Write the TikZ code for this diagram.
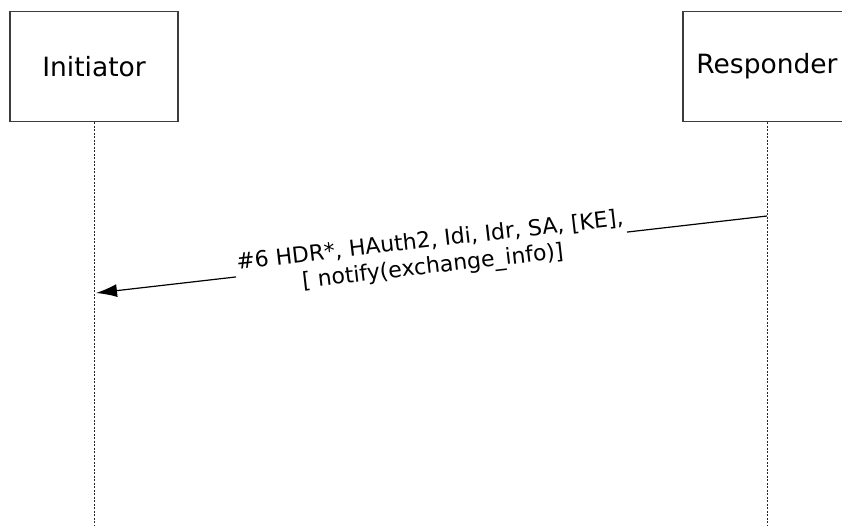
\documentclass[tikz,border=0pt]{standalone}
\usepackage{fontspec}
\setmainfont{DejaVu Sans}
\usetikzlibrary{positioning,arrows.meta,calc}
\definecolor{BoxGrey}{RGB}{60,60,60}

\begin{document}
\begin{tikzpicture}[
    x=1pt, y=-1pt,
    actor/.style={rectangle, draw=BoxGrey, line width=1.3pt, minimum width=168pt, minimum height=110pt, text centered, font=\fontsize{26.5}{30}\selectfont},
    life/.style={draw=black!85, line width=0.9pt, dash pattern=on 2pt off 1.5pt},
    line/.style={draw, line width=1.2pt, -{Latex[length=21pt,width=13pt]}},
    msg/.style={fill=white, inner sep=2pt, align=center, font=\fontsize{22}{26}\selectfont}
]
\fill[white] (0,0) rectangle (842,525);
\useasboundingbox (0,0) rectangle (842,525);
% Place nodes
\node [actor] (init) at (94,66.5) {Initiator};
\node [actor] (resp) at (767,66.5) {Responder};
\coordinate (initEnd) at (94,525);
\coordinate (respEnd) at (767,525);
\coordinate (m6from) at (767,216);
\coordinate (m6to) at (96,293);

% Draw lifelines
\draw [life] (init.south) -- (initEnd);
\draw [life] (resp.south) -- (respEnd);

% Draw message
\draw [line] (m6from) -- node [msg, sloped, midway] (m6) {\#6 HDR*, HAuth2, Idi, Idr, SA, [KE],\\{}[ notify(exchange\_info)]} (m6to);
\end{tikzpicture}
\end{document}
